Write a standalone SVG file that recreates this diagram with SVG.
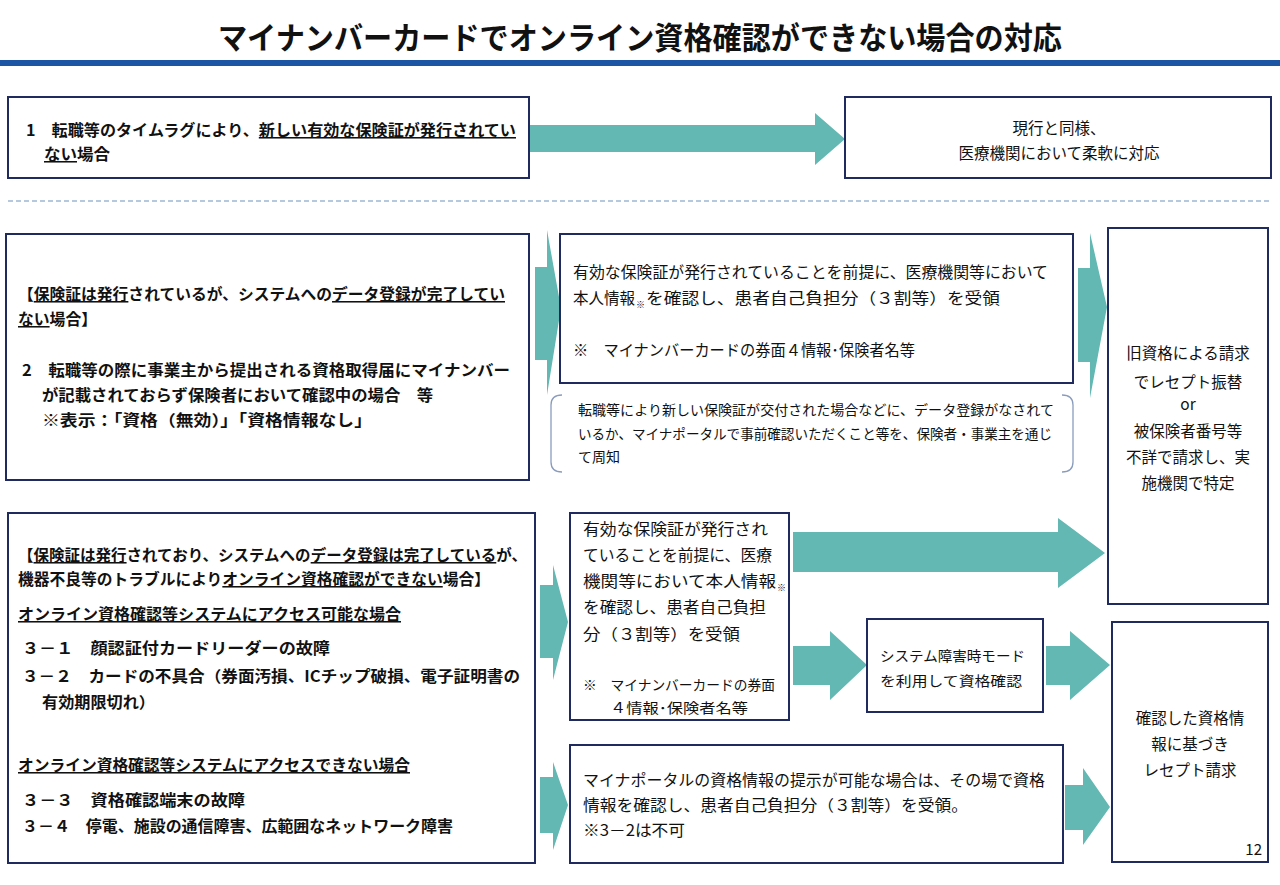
<svg xmlns="http://www.w3.org/2000/svg" width="1280" height="885" viewBox="0 0 1280 885">
<style>
text{font-family:"Noto Sans CJK JP","Noto Sans",sans-serif;fill:#111;font-size:15.5px}
.b{font-weight:bold}
.u{text-decoration:underline}
.box{fill:#fff;stroke:#1f2a5e;stroke-width:2}
.arr{fill:#63b8b3}
.brk{fill:none;stroke:#8a9cbc;stroke-width:1.3}
.c{text-anchor:middle}
.s{font-size:14px}
</style>
<rect width="1280" height="885" fill="#fff"/>
<g id="title">
<text x="218" y="49" class="b" style="font-size:31px" textLength="844" lengthAdjust="spacingAndGlyphs">マイナンバーカードでオンライン資格確認ができない場合の対応</text>
<rect x="0" y="60" width="1280" height="6" fill="#1d55a5"/>
</g>
<line x1="8" y1="201" x2="1272" y2="201" stroke="#9fb6d6" stroke-width="1.5" stroke-dasharray="5 3"/>
<g id="connectors">
<polygon class="arr" points="530,125 815,125 815,113 845,139 815,165 815,152 530,152"/>
<polygon class="arr" points="535,267 547,267 547,230 561,308 547,395 547,360 535,360"/>
<polygon class="arr" points="1078,268 1090,268 1090,233 1107,307 1090,398 1090,362 1078,362"/>
<polygon class="arr" points="540,585 553,585 553,565 568,622 553,680 553,658 540,658"/>
<polygon class="arr" points="793,532 1058,532 1058,518 1105,553 1058,588 1058,572 793,572"/>
<polygon class="arr" points="793,646 830,646 830,631 867,665 830,700 830,685 793,685"/>
<polygon class="arr" points="1046,646 1070,646 1070,631 1110,665 1070,700 1070,685 1046,685"/>
<polygon class="arr" points="540,777 553,777 553,762 568,805 553,850 553,833 540,833"/>
<polygon class="arr" points="1065,785 1083,785 1083,768 1110,807 1083,845 1083,830 1065,830"/>
</g>
<g id="box1">
<rect class="box" x="8" y="97" width="521" height="81"/>
<text x="26" y="136" class="b" textLength="490" lengthAdjust="spacingAndGlyphs">1　転職等のタイムラグにより、<tspan class="u">新しい有効な保険証が発行されてい</tspan></text>
<text x="44" y="160" class="b" textLength="66" lengthAdjust="spacingAndGlyphs"><tspan class="u">ない</tspan>場合</text>
</g>
<g id="box2">
<rect class="box" x="845" y="97" width="426" height="81"/>
<text x="1059" y="134" class="c">現行と同様、</text>
<text x="1059" y="159" class="c">医療機関において柔軟に対応</text>
</g>
<g id="box3">
<rect class="box" x="6" y="234" width="523" height="246"/>
<text x="18" y="300" class="b" textLength="487" lengthAdjust="spacingAndGlyphs">【<tspan class="u">保険証は発行</tspan>されているが、システムへの<tspan class="u">データ登録が完了してい</tspan></text>
<text x="18" y="325" class="b" textLength="79" lengthAdjust="spacingAndGlyphs"><tspan class="u">ない</tspan>場合】</text>
<text x="22" y="376" class="b" textLength="488" lengthAdjust="spacingAndGlyphs">2　転職等の際に事業主から提出される資格取得届にマイナンバー</text>
<text x="42" y="401" class="b" textLength="391" lengthAdjust="spacingAndGlyphs">が記載されておらず保険者において確認中の場合　等</text>
<text x="42" y="426" class="b" textLength="330" lengthAdjust="spacingAndGlyphs">※表示：「資格（無効）」「資格情報なし」</text>
</g>
<g id="box4">
<rect class="box" x="560" y="234" width="513" height="149"/>
<text x="573" y="278" textLength="475" lengthAdjust="spacingAndGlyphs">有効な保険証が発行されていることを前提に、医療機関等において</text>
<text x="573" y="304" textLength="62" lengthAdjust="spacingAndGlyphs">本人情報</text>
<text x="636" y="308" style="font-size:9px">※</text>
<text x="646" y="304" textLength="354" lengthAdjust="spacingAndGlyphs">を確認し、患者自己負担分（３割等）を受領</text>
<text x="573" y="356" textLength="342" lengthAdjust="spacingAndGlyphs">※　マイナンバーカードの券面４情報･保険者名等</text>
</g>
<g id="note">
<path class="brk" d="M562 395 Q551 395 551 405 L551 462 Q551 472 562 472"/>
<path class="brk" d="M1062 395 Q1073 395 1073 405 L1073 462 Q1073 472 1062 472"/>
<text x="578" y="415" class="s" textLength="476" lengthAdjust="spacingAndGlyphs">転職等により新しい保険証が交付された場合などに、データ登録がなされて</text>
<text x="578" y="439" class="s" textLength="474" lengthAdjust="spacingAndGlyphs">いるか、マイナポータルで事前確認いただくこと等を、保険者・事業主を通じ</text>
<text x="578" y="462" class="s" textLength="42" lengthAdjust="spacingAndGlyphs">て周知</text>
</g>
<g id="boxA">
<rect class="box" x="1108" y="228" width="160" height="376"/>
<text x="1188" y="359" class="c">旧資格による請求</text>
<text x="1188" y="388" class="c">でレセプト振替</text>
<text x="1188" y="410" class="c">or</text>
<text x="1188" y="437" class="c">被保険者番号等</text>
<text x="1188" y="463" class="c">不詳で請求し、実</text>
<text x="1188" y="489" class="c">施機関で特定</text>
</g>
<g id="box5">
<rect class="box" x="8" y="513" width="527" height="350"/>
<text x="18" y="561" class="b" textLength="509" lengthAdjust="spacingAndGlyphs">【<tspan class="u">保険証は発行</tspan>されており、システムへの<tspan class="u">データ登録は完了している</tspan>が、</text>
<text x="18" y="585" class="b" textLength="472" lengthAdjust="spacingAndGlyphs">機器不良等のトラブルにより<tspan class="u">オンライン資格確認ができない</tspan>場合】</text>
<text x="18" y="620" class="b u" textLength="383" lengthAdjust="spacingAndGlyphs">オンライン資格確認等システムにアクセス可能な場合</text>
<text x="22" y="654" class="b" textLength="308" lengthAdjust="spacingAndGlyphs">３－１　顔認証付カードリーダーの故障</text>
<text x="22" y="682" class="b" textLength="498" lengthAdjust="spacingAndGlyphs">３－２　カードの不具合（券面汚損、ICチップ破損、電子証明書の</text>
<text x="42" y="708" class="b" textLength="113" lengthAdjust="spacingAndGlyphs">有効期限切れ）</text>
<text x="18" y="771" class="b u" textLength="392" lengthAdjust="spacingAndGlyphs">オンライン資格確認等システムにアクセスできない場合</text>
<text x="22" y="806" class="b" textLength="223" lengthAdjust="spacingAndGlyphs">３－３　資格確認端末の故障</text>
<text x="22" y="832" class="b" textLength="431" lengthAdjust="spacingAndGlyphs">３－４　停電、施設の通信障害、広範囲なネットワーク障害</text>
</g>
<g id="box6">
<rect class="box" x="570" y="513" width="219" height="207"/>
<text x="583" y="535" textLength="185" lengthAdjust="spacingAndGlyphs">有効な保険証が発行され</text>
<text x="583" y="561" textLength="189" lengthAdjust="spacingAndGlyphs">ていることを前提に、医療</text>
<text x="583" y="587" textLength="193" lengthAdjust="spacingAndGlyphs">機関等において本人情報</text>
<text x="777" y="591" style="font-size:9px">※</text>
<text x="583" y="613" textLength="183" lengthAdjust="spacingAndGlyphs">を確認し、患者自己負担</text>
<text x="583" y="640" textLength="157" lengthAdjust="spacingAndGlyphs">分（３割等）を受領</text>
<text x="583" y="690" class="s" textLength="192" lengthAdjust="spacingAndGlyphs">※　マイナンバーカードの券面</text>
<text x="610" y="713" class="s" textLength="138" lengthAdjust="spacingAndGlyphs">４情報･保険者名等</text>
</g>
<g id="sysmode">
<rect class="box" x="867" y="619" width="176" height="93"/>
<text x="880" y="661" class="s" textLength="145" lengthAdjust="spacingAndGlyphs">システム障害時モード</text>
<text x="880" y="686" class="s" textLength="142" lengthAdjust="spacingAndGlyphs">を利用して資格確認</text>
</g>
<g id="boxB">
<rect class="box" x="1112" y="622" width="156" height="240"/>
<text x="1190" y="724" class="c">確認した資格情</text>
<text x="1190" y="750" class="c">報に基づき</text>
<text x="1190" y="776" class="c">レセプト請求</text>
</g>
<g id="box7">
<rect class="box" x="570" y="745" width="493" height="118"/>
<text x="583" y="786" textLength="462" lengthAdjust="spacingAndGlyphs">マイナポータルの資格情報の提示が可能な場合は、その場で資格</text>
<text x="583" y="811" textLength="385" lengthAdjust="spacingAndGlyphs">情報を確認し、患者自己負担分（３割等）を受領。</text>
<text x="583" y="836" textLength="102" lengthAdjust="spacingAndGlyphs">※3－2は不可</text>
</g>
<g id="page">
<text x="1262" y="855" style="text-anchor:end;font-size:15px">12</text>
</g>
</svg>
